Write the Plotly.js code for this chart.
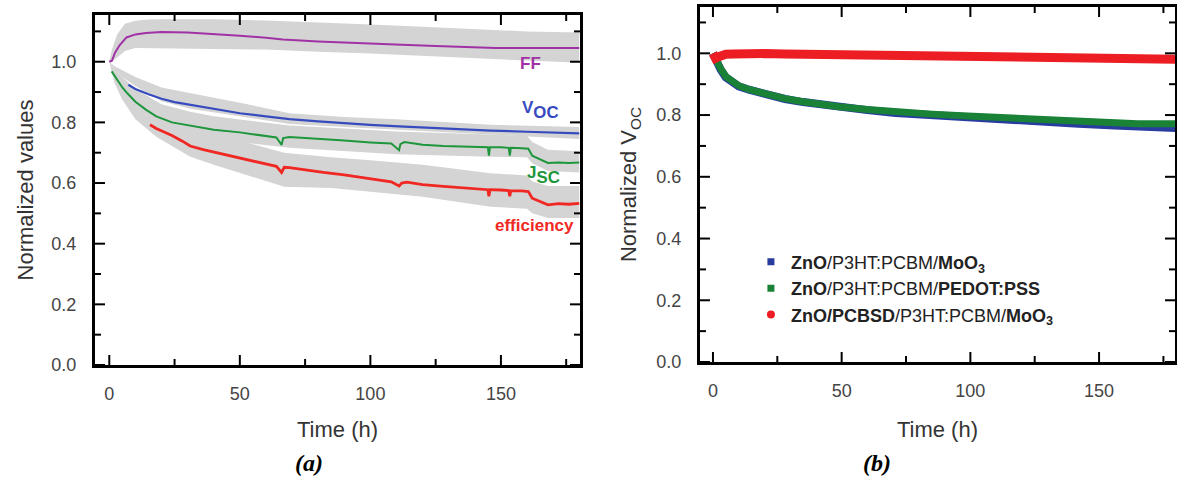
<!DOCTYPE html>
<html><head><meta charset="utf-8">
<script src="https://cdn.plot.ly/plotly-3.0.1.min.js"></script>
<style>html,body{margin:0;padding:0;background:#fff}#chart{width:1177px;height:497px}</style>
</head><body><div id="chart"></div>
<script>
// ---------- Panel (a) ----------
const ffTime = [0,1,2.2,4,6.6,10,14,20,30,40,50,60,66.5,80,90,100,112,125,135,148,160,170,180];
const ffValues = [1.0,1.003,1.03,1.055,1.08,1.09,1.095,1.098,1.096,1.092,1.086,1.079,1.073,1.067,1.063,1.06,1.056,1.052,1.049,1.045,1.045,1.045,1.045];

const vocTime = [7.3,10,15,20,25,31,40,50,60,69,80,90,100,111,120,130,146,160,170,180];
const vocValues = [0.924,0.91,0.893,0.878,0.867,0.858,0.843,0.83,0.82,0.811,0.803,0.797,0.792,0.787,0.783,0.779,0.773,0.769,0.766,0.764];

const jscTime = [0.9,3,5,7,10,14,18,24,31,40,50,58,64,66,66.6,69,75,82,90,100,108,111,111.5,113,120,128,136,145,145.4,145.8,150,153,153.4,153.8,158,160.5,162,164,166,168,172,176,180];
const jscValues = [0.968,0.94,0.915,0.895,0.868,0.842,0.82,0.8,0.79,0.776,0.767,0.757,0.75,0.726,0.748,0.752,0.748,0.744,0.74,0.734,0.73,0.708,0.728,0.735,0.726,0.722,0.72,0.718,0.69,0.718,0.718,0.716,0.69,0.716,0.715,0.713,0.69,0.682,0.676,0.666,0.668,0.666,0.668];

const effTime = [15.6,18,21,24,28,31,36,40,46,50,58,64,66,67,69,75,82,90,100,108,111,112,114,120,128,136,145,145.4,145.8,150,153,153.4,153.8,158,160.5,162,165,168,172,176,180];
const effValues = [0.792,0.78,0.768,0.757,0.738,0.722,0.71,0.702,0.69,0.684,0.666,0.655,0.635,0.652,0.651,0.643,0.635,0.627,0.615,0.604,0.59,0.6,0.603,0.595,0.589,0.584,0.578,0.556,0.578,0.577,0.575,0.556,0.575,0.574,0.572,0.55,0.538,0.528,0.532,0.53,0.533];

const ffBandTime = [0,1,3,6,10,15,20,40,60,80,100,120,140,160,180];
const ffBandUpper = [1.0,1.04,1.09,1.125,1.135,1.139,1.14,1.14,1.136,1.13,1.123,1.115,1.108,1.1,1.096];
const ffBandLower = [1.0,1.0,1.015,1.035,1.045,1.045,1.043,1.042,1.04,1.033,1.027,1.02,1.012,1.004,0.997];

const vocBandTime = [0,2,5,10,20,31,40,50,69,90,110,146,180];
const vocBandUpper = [1.0,0.985,0.972,0.95,0.915,0.897,0.88,0.865,0.83,0.818,0.81,0.792,0.785];
const vocBandLower = [1.0,0.975,0.95,0.92,0.87,0.845,0.832,0.82,0.795,0.785,0.775,0.76,0.745];

const jscBandTime = [0,2,5,10,20,31,40,50,69,90,110,146,160,162,168,180];
const jscBandUpper = [1.0,0.975,0.95,0.91,0.86,0.835,0.82,0.81,0.79,0.78,0.77,0.76,0.755,0.735,0.71,0.705];
const jscBandLower = [1.0,0.95,0.91,0.85,0.79,0.76,0.745,0.735,0.716,0.705,0.695,0.687,0.685,0.665,0.64,0.635];

const effBandTime = [0,2,5,10,18,31,40,50,67,85,100,120,146,160,162,168,180];
const effBandUpper = [1.0,0.96,0.93,0.88,0.83,0.78,0.76,0.74,0.70,0.685,0.675,0.66,0.632,0.625,0.605,0.59,0.59];
const effBandLower = [1.0,0.93,0.875,0.81,0.753,0.687,0.66,0.632,0.588,0.584,0.572,0.555,0.522,0.515,0.5,0.485,0.485];

// ---------- Panel (b) ----------
const vocTimeB = [0,0.5,1,2,3,5,8,10,14,20,28,35,42,49,60,71,85,99,113,128,142,156,165,172,180];
const moo3Values = [1.0,0.99,0.977,0.96,0.947,0.922,0.902,0.893,0.882,0.867,0.852,0.842,0.833,0.825,0.816,0.807,0.799,0.793,0.786,0.779,0.772,0.766,0.762,0.76,0.758];
const pedotValues = [1.0,0.99,0.978,0.962,0.95,0.925,0.905,0.895,0.883,0.868,0.853,0.843,0.834,0.827,0.818,0.81,0.803,0.797,0.791,0.785,0.779,0.775,0.772,0.772,0.772];
const pcbsdValues = [1.0,0.99,0.984,0.988,0.993,0.997,0.998,0.999,0.999,0.999,0.998,0.997,0.996,0.995,0.994,0.993,0.991,0.99,0.988,0.986,0.985,0.983,0.982,0.981,0.981];

const legendNames = [
  '<b>ZnO</b>/P3HT:PCBM/<b>MoO<sub>3</sub></b>',
  '<b>ZnO</b>/P3HT:PCBM/<b>PEDOT:PSS</b>',
  '<b>ZnO/PCBSD</b>/P3HT:PCBM/<b>MoO<sub>3</sub></b>'
];
// tick values
const xMajorTicks = [0,50,100,150];
const xMinorTicks = [25,75,125,175];
const yMajorTicks = [0,0.2,0.4,0.6,0.8,1.0];
const yMajorText = ['0.0','0.2','0.4','0.6','0.8','1.0'];
const yMinorTicks = [0.1,0.3,0.5,0.7,0.9,1.1];

const W = 1177, H = 497;
const domA = {x:[0.0807,0.4928], y:[0.2656,0.9698]};
const domB = {x:[0.5947,0.9983], y:[0.2716,0.9859]};
const rangeA = {x:[-5.48,180.3], y:[0,1.154]};
const rangeB = {x:[-5.05,179.5], y:[0,1.15]};

const GREY = 'rgb(212,212,212)';
function band(t, up, lo) {
  return {x: t.concat(t.slice().reverse()), y: up.concat(lo.slice().reverse()),
    type:'scatter', mode:'lines', fill:'toself', fillcolor:GREY, line:{width:0},
    hoverinfo:'skip', showlegend:false, xaxis:'x', yaxis:'y'};
}
// inward tick marks on all four sides, built from the tick value arrays
function tickMarks(xa, ya, dom, rng) {
  const xpp = (rng.x[1]-rng.x[0]) / ((dom.x[1]-dom.x[0]) * W);
  const ypp = (rng.y[1]-rng.y[0]) / ((dom.y[1]-dom.y[0]) * H);
  const xs = [], ys = [];
  const seg = (x0, y0, x1, y1) => { xs.push(x0, x1, null); ys.push(y0, y1, null); };
  [[xMajorTicks,10],[xMinorTicks,6]].forEach(([vals,len]) => vals.forEach(v => {
    seg(v, rng.y[0], v, rng.y[0] + len*ypp);
    seg(v, rng.y[1], v, rng.y[1] - len*ypp);
  }));
  [[yMajorTicks,10],[yMinorTicks,6]].forEach(([vals,len]) => vals.forEach(v => {
    seg(rng.x[0], v, rng.x[0] + len*xpp, v);
    seg(rng.x[1], v, rng.x[1] - len*xpp, v);
  }));
  return {x:xs, y:ys, type:'scatter', mode:'lines', line:{color:'black', width:2},
    connectgaps:false, cliponaxis:false, hoverinfo:'skip', showlegend:false, xaxis:xa, yaxis:ya};
}
const C_FF='rgb(160,50,165)', C_VOC='rgb(55,75,190)', C_JSC='rgb(30,150,60)', C_EFF='rgb(240,40,35)';
const B_BLUE='rgb(40,60,160)', B_GREEN='rgb(25,130,55)', B_RED='rgb(236,30,36)';

const traces = [
  band(ffBandTime, ffBandUpper, ffBandLower),
  band(vocBandTime, vocBandUpper, vocBandLower),
  band(jscBandTime, jscBandUpper, jscBandLower),
  band(effBandTime, effBandUpper, effBandLower),
  {x:ffTime, y:ffValues, type:'scatter', mode:'lines', line:{color:C_FF, width:2}, showlegend:false, xaxis:'x', yaxis:'y'},
  {x:vocTime, y:vocValues, type:'scatter', mode:'lines', line:{color:C_VOC, width:2.2}, showlegend:false, xaxis:'x', yaxis:'y'},
  {x:jscTime, y:jscValues, type:'scatter', mode:'lines', line:{color:C_JSC, width:2}, showlegend:false, xaxis:'x', yaxis:'y'},
  {x:effTime, y:effValues, type:'scatter', mode:'lines', line:{color:C_EFF, width:2.8}, showlegend:false, xaxis:'x', yaxis:'y'},
  {x:vocTimeB, y:moo3Values, type:'scatter', mode:'lines', line:{color:B_BLUE, width:8}, showlegend:false, xaxis:'x2', yaxis:'y2'},
  {x:vocTimeB, y:pedotValues, type:'scatter', mode:'lines', line:{color:B_GREEN, width:7}, showlegend:false, xaxis:'x2', yaxis:'y2'},
  {x:vocTimeB, y:pcbsdValues, type:'scatter', mode:'lines', line:{color:B_RED, width:9}, showlegend:false, xaxis:'x2', yaxis:'y2'},
  tickMarks('x','y',domA,rangeA),
  tickMarks('x2','y2',domB,rangeB),
  {x:[null], y:[null], type:'scatter', mode:'markers', name:legendNames[0], marker:{symbol:'square', size:7, color:B_BLUE}, xaxis:'x2', yaxis:'y2'},
  {x:[null], y:[null], type:'scatter', mode:'markers', name:legendNames[1], marker:{symbol:'square', size:7, color:B_GREEN}, xaxis:'x2', yaxis:'y2'},
  {x:[null], y:[null], type:'scatter', mode:'markers', name:legendNames[2], marker:{symbol:'circle', size:8, color:B_RED}, xaxis:'x2', yaxis:'y2'}
];

const FONT = 'Arial, "Liberation Sans", Helvetica, sans-serif';
const titleFont = {family:FONT, size:22, color:'#333'};
const tickFont = {family:FONT, size:18, color:'#444'};
function axis(extra) {
  return Object.assign({showline:true, mirror:true, linewidth:3, linecolor:'black', ticks:'',
    showgrid:false, zeroline:false, tickfont:tickFont}, extra);
}

const layout = {
  width:W, height:H, margin:{l:0,r:0,t:0,b:0},
  paper_bgcolor:'white', plot_bgcolor:'white', font:{family:FONT, color:'#333'},
  showlegend:true,
  legend:{x:0.638, y:0.51, xanchor:'left', yanchor:'top', bgcolor:'rgba(0,0,0,0)',
    font:{family:FONT, size:18, color:'#222'}, tracegroupgap:0, itemwidth:30},
  xaxis: axis({domain:domA.x, range:rangeA.x, tickvals:xMajorTicks, ticklabelstandoff:10,
    title:{text:'Time (h)', font:titleFont, standoff:20}, anchor:'y'}),
  yaxis: axis({domain:domA.y, range:rangeA.y, tickvals:yMajorTicks, ticktext:yMajorText, ticklabelstandoff:12,
    title:{text:'Normalized values', font:titleFont, standoff:12}, anchor:'x'}),
  xaxis2: axis({domain:domB.x, range:rangeB.x, tickvals:xMajorTicks, ticklabelstandoff:10,
    title:{text:'Time (h)', font:titleFont, standoff:22}, anchor:'y2'}),
  yaxis2: axis({domain:domB.y, range:rangeB.y, tickvals:yMajorTicks, ticktext:yMajorText, ticklabelstandoff:12,
    title:{text:'Normalized V<sub>OC</sub>', font:titleFont, standoff:14}, anchor:'x2'}),
  annotations:[
    {xref:'x', yref:'y', x:161.5, y:0.995, text:'<b>FF</b>', showarrow:false, font:{family:FONT, size:17, color:C_FF}},
    {xref:'x', yref:'y', x:165, y:0.842, text:'<b><span style="font-size:17px">V</span><sub>OC</sub></b>', showarrow:false, font:{family:FONT, size:24, color:C_VOC}},
    {xref:'x', yref:'y', x:166.5, y:0.625, text:'<b><span style="font-size:17px">J</span><sub>SC</sub></b>', showarrow:false, font:{family:FONT, size:24, color:C_JSC}},
    {xref:'x', yref:'y', x:178.6, y:0.46, xanchor:'right', text:'<b>efficiency</b>', showarrow:false, font:{family:FONT, size:17, color:C_EFF}},
    {xref:'paper', yref:'paper', x:293/W, y:(H-478)/H, text:'<b><i>(a)</i></b>', showarrow:false, font:{family:'"Liberation Serif", "Times New Roman", serif', size:24, color:'#000'}},
    {xref:'paper', yref:'paper', x:893/W, y:(H-478)/H, text:'<b><i>(b)</i></b>', showarrow:false, font:{family:'"Liberation Serif", "Times New Roman", serif', size:24, color:'#000'}}
  ]
};

Plotly.newPlot('chart', traces, layout, {displayModeBar:false});
</script></body></html>
